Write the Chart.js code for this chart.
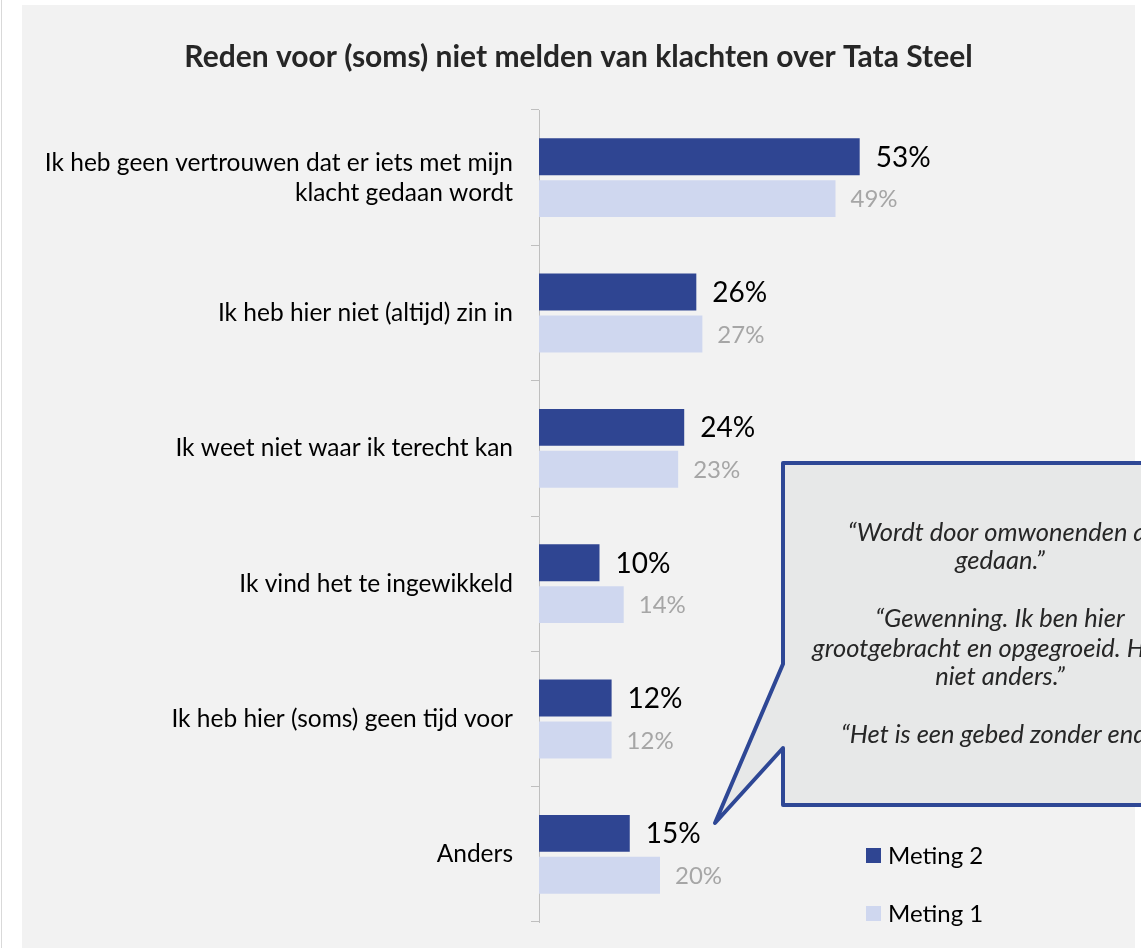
<!DOCTYPE html>
<html>
<head>
<meta charset="utf-8">
<script src="https://cdn.jsdelivr.net/npm/chart.js@4.4.0/dist/chart.umd.min.js"></script>
<style>
  html, body { margin: 0; padding: 0; background: #fff; }
</style>
</head>
<body>
<canvas id="myChart" width="1141" height="948"></canvas>
<script>
let categories = [
    ["Ik heb geen vertrouwen dat er iets met mijn", "klacht gedaan wordt"],
    "Ik heb hier niet (altijd) zin in",
    "Ik weet niet waar ik terecht kan",
    "Ik vind het te ingewikkeld",
    "Ik heb hier (soms) geen tijd voor",
    "Anders"
];
let seriesNames = ["Meting 2", "Meting 1"];
let meting2 = [53, 26, 24, 10, 12, 15];
let meting1 = [49, 27, 23, 14, 12, 20];

let colors = ['#2F4592', '#CFD7EF'];
let labelColors = ['#000000', '#A6A6A6'];

let quotes = [
    "\u201CWordt door omwonenden al",
    "gedaan.\u201D",
    "",
    "\u201CGewenning. Ik ben hier",
    "grootgebracht en opgegroeid. Het is",
    "niet anders.\u201D",
    "",
    "\u201CHet is een gebed zonder end.\u201D"
];

let fontName = "Lato, 'Open Sans', sans-serif";

// grijs paneel achter de grafiek
let achtergrond = {
    id: 'achtergrond',
    beforeDraw(chart) {
        let ctx = chart.ctx;
        ctx.save();
        ctx.fillStyle = '#ffffff';
        ctx.fillRect(0, 0, chart.width, chart.height);
        ctx.fillStyle = '#F2F2F2';
        ctx.fillRect(22, 5, 1113, 943);
        ctx.strokeStyle = '#D9D9D9';
        ctx.lineWidth = 1;
        ctx.beginPath();
        ctx.moveTo(1.5, 0);
        ctx.lineTo(1.5, chart.height);
        ctx.stroke();
        ctx.restore();
    }
};

// percentages achter de balken
let waardes = {
    id: 'waardes',
    afterDatasetsDraw(chart) {
        let ctx = chart.ctx;
        ctx.save();
        ctx.textBaseline = 'middle';
        ctx.textAlign = 'left';
        chart.data.datasets.forEach((ds, i) => {
            let meta = chart.getDatasetMeta(i);
            ctx.fillStyle = labelColors[i];
            ctx.font = (i === 0 ? '28px ' : '24px ') + fontName;
            meta.data.forEach((bar, j) => {
                ctx.fillText(ds.data[j] + '%', bar.x + (i === 0 ? 16 : 15), bar.y + 1);
            });
        });
        ctx.restore();
    }
};

// tekstballon met citaten en de legenda
let ballon = {
    id: 'ballon',
    afterDraw(chart) {
        let ctx = chart.ctx;
        ctx.save();
        ctx.beginPath();
        ctx.moveTo(783, 463);
        ctx.lineTo(1240, 463);
        ctx.lineTo(1240, 805);
        ctx.lineTo(783, 805);
        ctx.lineTo(783, 748);
        ctx.lineTo(715, 823);
        ctx.lineTo(783, 664);
        ctx.closePath();
        ctx.fillStyle = '#E7E8E8';
        ctx.fill();
        ctx.lineWidth = 4;
        ctx.lineJoin = 'round';
        ctx.strokeStyle = '#2E4795';
        ctx.stroke();

        ctx.fillStyle = '#262626';
        ctx.font = 'italic 25.5px ' + fontName;
        ctx.textAlign = 'center';
        ctx.textBaseline = 'middle';
        let ys = [533, 561, 590, 619, 649, 677, 706, 735];
        quotes.forEach((q, i) => {
            if (q) ctx.fillText(q, 1000, ys[i]);
        });

        // legenda
        ctx.textAlign = 'left';
        ctx.font = '24px ' + fontName;
        let ly = [856, 914];
        seriesNames.forEach((n, i) => {
            ctx.fillStyle = colors[i];
            ctx.fillRect(866, ly[i] - 8, 15, 15);
            ctx.fillStyle = '#000000';
            ctx.fillText(n, 888, ly[i]);
        });
        ctx.restore();
    }
};

let myChart = document.getElementById("myChart").getContext('2d');

let chart1 = new Chart(myChart, {
    type: 'bar',
    data: {
        labels: categories,
        datasets: [{
            label: seriesNames[0],
            data: meting2,
            backgroundColor: colors[0]
        }, {
            label: seriesNames[1],
            data: meting1,
            backgroundColor: colors[1]
        }]
    },
    options: {
        indexAxis: 'y',
        responsive: false,
        animation: false,
        categoryPercentage: 0.62,
        barPercentage: 0.88,
        layout: {
            padding: { left: 22, right: 6, top: 0, bottom: 26 }
        },
        scales: {
            x: {
                display: false,
                min: 0,
                max: 98.5
            },
            y: {
                grid: {
                    display: true,
                    drawOnChartArea: false,
                    drawTicks: true,
                    tickLength: 8,
                    color: '#BFBFBF',
                    offset: true
                },
                border: { display: true, color: '#BFBFBF' },
                ticks: {
                    color: '#000000',
                    padding: 18,
                    font: { family: fontName, size: 24.5, lineHeight: 1.22 }
                },
                afterFit(scale) {
                    scale.width = 517;
                    scale.paddingTop = 0;
                    scale.paddingBottom = 0;
                }
            }
        },
        plugins: {
            title: {
                display: true,
                text: "Reden voor (soms) niet melden van klachten over Tata Steel",
                color: '#262626',
                font: { family: fontName, size: 30, weight: 'bold' },
                padding: { top: 39, bottom: 35 }
            },
            legend: { display: false },
            tooltip: { enabled: false }
        }
    },
    plugins: [achtergrond, waardes, ballon]
});
</script>
</body>
</html>
